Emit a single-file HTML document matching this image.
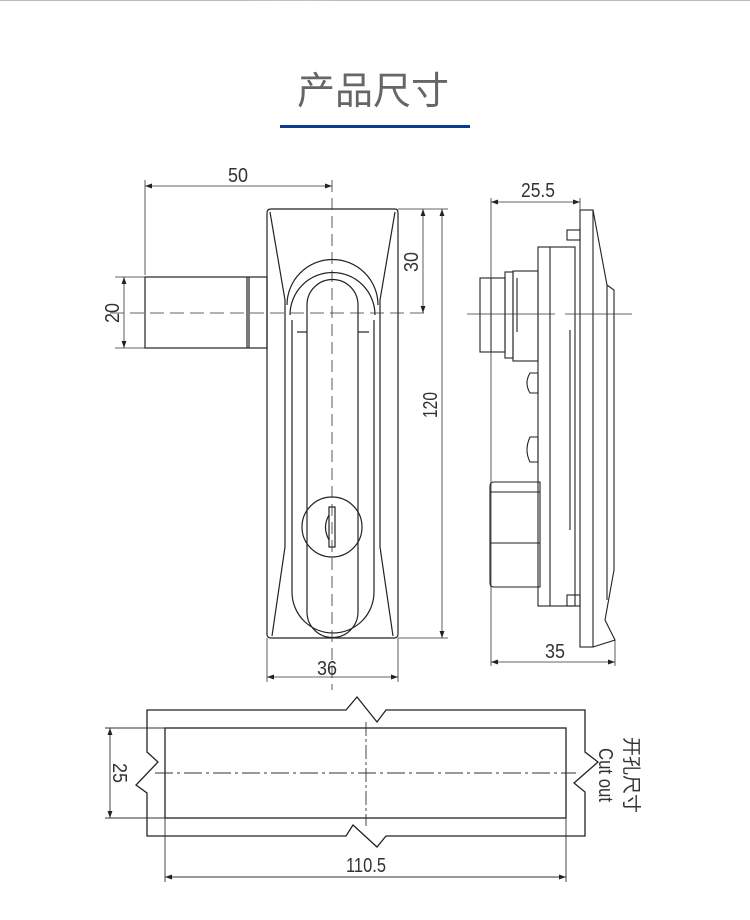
<!DOCTYPE html>
<html><head><meta charset="utf-8"><style>
html,body{margin:0;padding:0;background:#fff;width:750px;height:920px;overflow:hidden}
svg{display:block}
</style></head><body>
<svg width="750" height="920" viewBox="0 0 750 920" xmlns="http://www.w3.org/2000/svg" font-family="Liberation Sans, sans-serif">
<defs>
<radialGradient id="sh" cx="50%" cy="0%" r="60%"><stop offset="0" stop-color="#999" stop-opacity="0.9"/><stop offset="1" stop-color="#fff" stop-opacity="0"/></radialGradient>
<marker id="a" viewBox="0 0 10 10" refX="10" refY="5" markerWidth="10" markerHeight="7" orient="auto-start-reverse" markerUnits="userSpaceOnUse"><path d="M0,1.5 L10,5 L0,8.5 z" fill="#222"/></marker>
</defs>
<line x1="0" y1="0.5" x2="750" y2="0.5" stroke="#bbb"/>
<ellipse cx="290" cy="0" rx="75" ry="34" fill="url(#sh)"/>
<text x="373" y="104" text-anchor="middle" font-size="38" fill="#666" font-family="Liberation Sans, Noto Sans CJK SC, sans-serif">产品尺寸</text>
<rect x="280" y="125" width="190" height="3" fill="#0b3d8c"/>

<g stroke="#222" fill="none" stroke-width="1.2">
<path d="M271,209 H395 Q398,209 398,213 V634 Q398,638 394,638 H271 Q267,638 267,634 V213 Q267,209 271,209 Z"/>
<path d="M270,212 L285,300 V547 L272,636"/>
<path d="M395,212 L380,300 V547 L393,636"/>
<path d="M287,305 A45,45 0 0 1 378,305"/>
<path d="M290,315 A42,42 0 0 1 375,315"/>
<path d="M292,320 V592 A41,41 0 0 0 374,592 V320"/>
<path d="M307,305 A25,25 0 0 1 358,305 V612 A25,25 0 0 1 307,612 Z"/>
<line x1="297" y1="332" x2="307" y2="332"/><line x1="358" y1="332" x2="369" y2="332"/>
<circle cx="332" cy="527" r="30"/>
<rect x="329" y="507" width="6" height="40"/>
<path d="M329,515 Q322,527 329,540"/>
<rect x="145" y="277" width="122" height="71"/>
<line x1="247" y1="277" x2="247" y2="348"/><line x1="249" y1="277" x2="249" y2="348"/>
</g>
<g stroke="#333" stroke-width="0.8" fill="none">
<line x1="332" y1="180" x2="332" y2="690" stroke-dasharray="12,6"/>
<line x1="110" y1="313" x2="430" y2="313" stroke-dasharray="14,6"/>
<line x1="145" y1="180" x2="145" y2="275"/>
<line x1="145" y1="186" x2="332" y2="186" marker-start="url(#a)" marker-end="url(#a)"/>
<line x1="115" y1="277" x2="145" y2="277"/><line x1="115" y1="348" x2="145" y2="348"/>
<line x1="124" y1="277" x2="124" y2="348" marker-start="url(#a)" marker-end="url(#a)"/>
<line x1="398" y1="209" x2="448" y2="209"/><line x1="398" y1="638" x2="448" y2="638"/>
<line x1="423" y1="209" x2="423" y2="313" marker-start="url(#a)" marker-end="url(#a)"/>
<line x1="442" y1="209" x2="442" y2="638" marker-start="url(#a)" marker-end="url(#a)"/>
<line x1="267" y1="638" x2="267" y2="682"/><line x1="398" y1="638" x2="398" y2="682"/>
<line x1="267" y1="677" x2="398" y2="677" marker-start="url(#a)" marker-end="url(#a)"/>
</g>
<g font-size="20" fill="#333">
<text x="238" y="182" text-anchor="middle" textLength="20" lengthAdjust="spacingAndGlyphs">50</text>
<text x="327" y="675" text-anchor="middle" textLength="20" lengthAdjust="spacingAndGlyphs">36</text>
<text transform="translate(119,313) rotate(-90)" text-anchor="middle" textLength="20" lengthAdjust="spacingAndGlyphs">20</text>
<text transform="translate(418,262) rotate(-90)" text-anchor="middle" textLength="20" lengthAdjust="spacingAndGlyphs">30</text>
<text transform="translate(437,405) rotate(-90)" text-anchor="middle" textLength="26" lengthAdjust="spacingAndGlyphs">120</text>
</g>

<g stroke="#222" fill="none" stroke-width="1.1">
<rect x="580" y="210" width="13" height="437"/>
<path d="M593,210 L607,285 L614,290 V570 L605,620 L615,640 L593,647"/>
<line x1="607" y1="285" x2="607" y2="600"/>
<rect x="538" y="247" width="37" height="359"/>
<line x1="550" y1="247" x2="550" y2="606"/>
<rect x="567" y="230" width="13" height="10"/><rect x="567" y="595" width="13" height="11"/>
<rect x="480" y="278" width="25" height="74"/><line x1="491" y1="278" x2="491" y2="352"/>
<rect x="505" y="272" width="8" height="86"/>
<rect x="513" y="271" width="25" height="90"/>
<line x1="517" y1="278" x2="517" y2="332"/>
<path d="M530,373 Q524,383 530,393 H538 V373 Z"/>
<path d="M530,437 Q524,450 530,462 H538 V437 Z"/>
<path d="M494,482 H540 V587 H494 Q490,587 490,583 V486 Q490,482 494,482 Z"/>
<line x1="490" y1="492" x2="540" y2="492"/><line x1="490" y1="543" x2="540" y2="543"/>
<line x1="570" y1="330" x2="570" y2="530"/>
</g>
<g stroke="#333" stroke-width="0.8" fill="none">
<line x1="467" y1="314" x2="555" y2="314"/><line x1="565" y1="314" x2="632" y2="314"/>
<line x1="491" y1="198" x2="491" y2="666"/><line x1="580" y1="198" x2="580" y2="210"/>
<line x1="491" y1="202" x2="580" y2="202" marker-start="url(#a)" marker-end="url(#a)"/>
<line x1="615" y1="640" x2="615" y2="666"/>
<line x1="491" y1="662" x2="615" y2="662" marker-start="url(#a)" marker-end="url(#a)"/>
</g>
<g font-size="20" fill="#333">
<text x="538" y="197" text-anchor="middle" textLength="34" lengthAdjust="spacingAndGlyphs">25.5</text>
<text x="555" y="658" text-anchor="middle" textLength="20" lengthAdjust="spacingAndGlyphs">35</text>
</g>

<g stroke="#222" fill="none" stroke-width="1.3">
<path d="M147,710 H346 L357,697 L377,722 L386,710 H585 V752 L598,762 L574,783 L585,792 V836 H386 L377,847 L353,825 L346,836 H147 V793 L136,785 L158,762 L147,752 Z"/>
<rect x="165" y="728" width="401" height="90"/>
</g>
<g stroke="#333" stroke-width="0.9" fill="none">
<line x1="366" y1="722" x2="366" y2="826" stroke-dasharray="14,3,3,3"/>
<line x1="155" y1="773" x2="576" y2="773" stroke-dasharray="18,4,3,4"/>
<line x1="105" y1="728" x2="165" y2="728"/><line x1="105" y1="818" x2="165" y2="818"/>
<line x1="110" y1="728" x2="110" y2="818" marker-start="url(#a)" marker-end="url(#a)"/>
<line x1="165" y1="818" x2="165" y2="882"/><line x1="566" y1="818" x2="566" y2="882"/>
<line x1="165" y1="877" x2="566" y2="877" marker-start="url(#a)" marker-end="url(#a)"/>
</g>
<g font-size="20" fill="#333">
<text transform="translate(113,773) rotate(90)" text-anchor="middle" textLength="20" lengthAdjust="spacingAndGlyphs">25</text>
<text x="366" y="872" text-anchor="middle" textLength="40" lengthAdjust="spacingAndGlyphs">110.5</text>
<text transform="translate(599,775) rotate(90)" text-anchor="middle" textLength="54" lengthAdjust="spacingAndGlyphs">Cut out</text>
<text transform="translate(625,775) rotate(90)" text-anchor="middle" font-size="19" font-family="Liberation Sans, Noto Sans CJK SC, sans-serif">开孔尺寸</text>
</g>
</svg>
</body></html>
